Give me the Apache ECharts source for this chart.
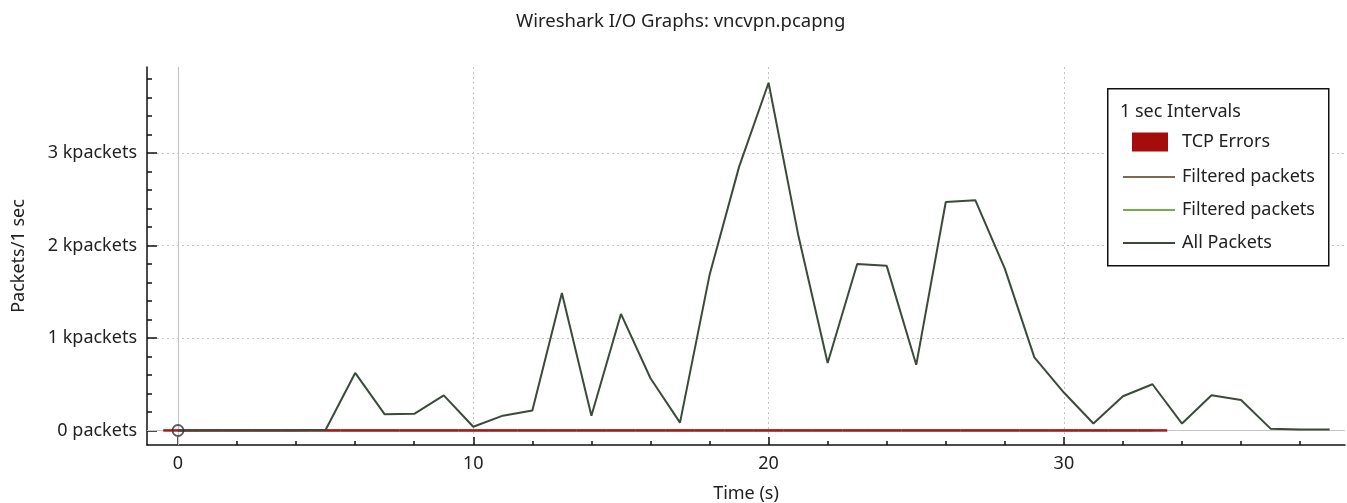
<!DOCTYPE html>
<html>
<head>
<meta charset="utf-8">
<script src="https://cdn.jsdelivr.net/npm/echarts@6/dist/echarts.min.js"></script>
<style>
html,body{margin:0;padding:0;background:#fff;}
#chart{width:1347px;height:503px;}
</style>
</head>
<body>
<div id="chart"></div>
<script>
// ---- data ----
const times = [0,1,2,3,4,5,6,7,8,9,10,11,12,13,14,15,16,17,18,19,20,21,22,23,24,25,26,27,28,29,30,31,32,33,34,35,36,37,38,39];
const allPackets = [0,2,2,2,2,8,622,175,180,380,40,160,215,1486,160,1260,565,85,1680,2850,3760,2120,730,1800,1780,710,2470,2490,1750,790,410,75,370,500,75,380,330,20,10,10];
const filteredPackets1 = [0,0,0,0,0,0,0,0,0,0,0,0,0,0,0,0,0,0,0,0,0,0,0,0,0,0,0,0,0,0,0,0,0,0];
const filteredPackets2 = [0,0,0,0,0,0,0,0,0,0,0,0,0,0,0,0,0,0,0,0,0,0,0,0,0,0,0,0,0,0,0,0,0,0];
const tcpErrors = [0,0,0,0,0,0,0,0,0,0,0,0,0,0,0,0,0,0,0,0,0,0,0,0,0,0,0,0,0,0,0,0,0,0];
const yMajorTicks = [0,1000,2000,3000];
const yMinorTicks = [0,200,400,600,800,1000,1200,1400,1600,1800,2000,2200,2400,2600,2800,3000,3200,3400,3600,3800];
const xMajorTicks = [0,10,20,30];
const xMinorTicks = [0,2,4,6,8,10,12,14,16,18,20,22,24,26,28,30,32,34,36,38];
const tracerIndex = 0;

const FONT = 'Noto Sans';
const FS = 18;
const pairs = arr => arr.map((v,i) => [times[i], v]);

const chart = echarts.init(document.getElementById('chart'), null, {renderer:'canvas'});
const xRange = {min:-1.05, max:39.52};
const yRange = {min:-157, max:3930};

const option = {
  animation:false,
  backgroundColor:'#fff',
  textStyle:{fontFamily:FONT},
  title:{
    text:'Wireshark I/O Graphs: vncvpn.pcapng',
    left:511, top:7,
    textStyle:{fontFamily:FONT, fontSize:18.5, fontWeight:'normal', color:'#222'}
  },
  grid:{left:147, top:67, right:2, bottom:58, containLabel:false, outerBoundsMode:'none'},
  xAxis:[{
    type:'value', position:'bottom', min:xRange.min, max:xRange.max,
    name:'Time (s)', nameLocation:'middle', nameGap:40,
    nameTextStyle:{fontFamily:FONT, fontSize:FS, color:'#222'},
    axisLine:{show:true, onZero:false, lineStyle:{color:'#111', width:1.5}},
    axisTick:{show:true, inside:true, length:8, customValues:xMajorTicks, lineStyle:{color:'#111', width:1.5}},
    axisLabel:{show:true, customValues:xMajorTicks, margin:10, fontFamily:FONT, fontSize:FS, color:'#222'},
    splitLine:{show:true, lineStyle:{color:'#c4c4c4', type:[2,3], width:1}}
  },{
    type:'value', position:'bottom', min:xRange.min, max:xRange.max,
    axisLine:{show:false, onZero:false},
    axisTick:{show:true, inside:true, length:4, customValues:xMinorTicks, lineStyle:{color:'#111', width:1.5}},
    axisLabel:{show:false},
    splitLine:{show:false}
  }],
  yAxis:[{
    type:'value', position:'left', min:yRange.min, max:yRange.max,
    name:'Packets/1 sec', nameLocation:'middle', nameGap:119,
    nameTextStyle:{fontFamily:FONT, fontSize:FS, color:'#222'},
    axisLine:{show:true, onZero:false, lineStyle:{color:'#111', width:1.5}},
    axisTick:{show:true, inside:true, length:10, customValues:yMajorTicks, lineStyle:{color:'#111', width:1.5}},
    axisLabel:{show:true, customValues:yMajorTicks, margin:10, fontFamily:FONT, fontSize:FS, color:'#222',
      formatter: v => v === 0 ? '0 packets' : (v/1000) + ' kpackets'},
    splitLine:{show:true, lineStyle:{color:'#c4c4c4', type:[2,3], width:1}}
  },{
    type:'value', position:'left', min:yRange.min, max:yRange.max,
    axisLine:{show:false, onZero:false},
    axisTick:{show:true, inside:true, length:5, customValues:yMinorTicks, lineStyle:{color:'#111', width:1.5}},
    axisLabel:{show:false},
    splitLine:{show:false}
  }],
  legend:[{
    orient:'vertical', left:1127, top:127,
    icon:'rect', itemWidth:36, itemHeight:19, itemGap:10,
    data:[{name:'TCP Errors', itemStyle:{color:'#a50d0d'}}],
    textStyle:{fontFamily:FONT, fontSize:FS, color:'#222', lineHeight:20, padding:[0,0,0,9]},
    selectedMode:false, z:10
  },{
    orient:'vertical', left:1118, top:162,
    icon:'rect', itemWidth:52, itemHeight:2, itemGap:13,
    data:['Filtered packets#1','Filtered packets#2','All Packets'],
    formatter: n => n.replace(/#\d$/, ''),
    textStyle:{fontFamily:FONT, fontSize:FS, color:'#222', lineHeight:20, padding:[0,0,0,2]},
    selectedMode:false, z:10
  }],
  graphic:[{
    type:'rect', left:1107, top:88, z:5,
    shape:{width:221, height:177},
    style:{fill:'#fff', stroke:'#111', lineWidth:1.5}
  },{
    type:'text', left:1120, top:103, z:6,
    style:{text:'1 sec Intervals', fill:'#222', font:FS + 'px "Noto Sans"'}
  }],
  series:[{
    name:'Filtered packets#1', type:'line', xAxisIndex:0, yAxisIndex:0,
    data:pairs(filteredPackets1), symbol:'none', z:2,
    itemStyle:{color:'#7d6a4e'}, lineStyle:{color:'#7d6a4e', width:1.5},
    markLine:{
      silent:true, symbol:'none', label:{show:false}, z:1,
      lineStyle:{color:'#c6c6c6', type:'solid', width:1.2},
      data:[{xAxis:0},{yAxis:0}]
    }
  },{
    name:'Filtered packets#2', type:'line', xAxisIndex:0, yAxisIndex:0,
    data:pairs(filteredPackets2), symbol:'none', z:2,
    itemStyle:{color:'#7aaa4e'}, lineStyle:{color:'#7aaa4e', width:1.5}
  },{
    name:'TCP Errors', type:'custom', xAxisIndex:0, yAxisIndex:0, z:3,
    data:tcpErrors.map((v,i) => [times[i], v]),
    encode:{x:0, y:1},
    itemStyle:{color:'#a50d0d'},
    renderItem:(params, api) => {
      const x = api.value(0), v = api.value(1);
      const p0 = api.coord([x - 0.5, 0]);
      const p1 = api.coord([x + 0.5, v]);
      const h = Math.max(2.5, p0[1] - p1[1]);
      return {type:'rect', z2:10, shape:{x:p0[0], y:p0[1] - h + 1.2, width:p1[0] - p0[0], height:h},
        style:{fill:'#a51818'}};
    }
  },{
    name:'All Packets', type:'line', xAxisIndex:0, yAxisIndex:0,
    data:pairs(allPackets), symbol:'none', z:4,
    itemStyle:{color:'#3b4a3b'}, lineStyle:{color:'#3b4a3b', width:2}
  },{
    name:'tracer', type:'scatter', xAxisIndex:0, yAxisIndex:0, z:5,
    data:[[times[tracerIndex], allPackets[tracerIndex]]],
    symbol:'circle', symbolSize:11,
    itemStyle:{color:'rgba(0,0,0,0)', borderColor:'#333', borderWidth:1.8},
    silent:true
  }]
};
chart.setOption(option);
</script>
</body>
</html>
